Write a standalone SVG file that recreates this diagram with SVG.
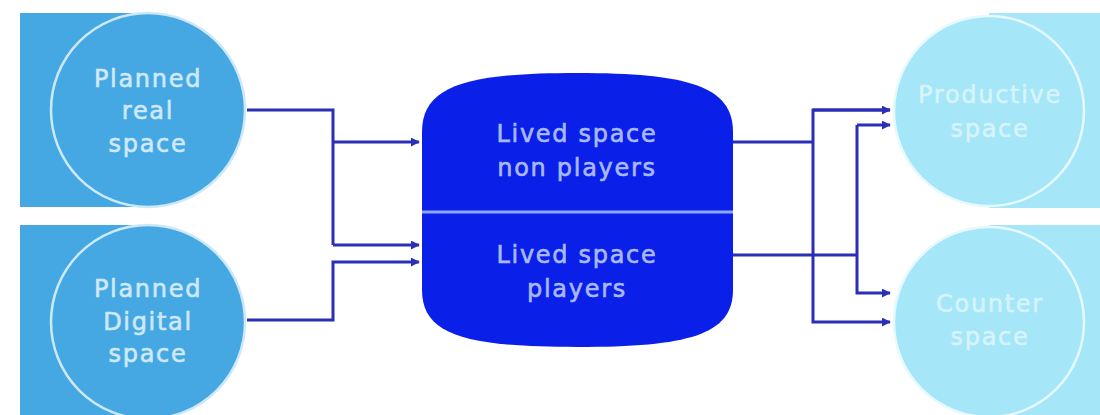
<svg xmlns="http://www.w3.org/2000/svg" width="1100" height="415" viewBox="0 0 1100 415">
<style>
.lbg{fill:#46a8e2}
.lc{fill:#46a8e2;stroke:#cde9f8;stroke-width:2.5}
.rbg{fill:#a5e6f8}
.rc{fill:#a5e6f8;stroke:#e6f9fe;stroke-width:2.5}
.t{font-family:"DejaVu Sans",sans-serif;font-size:24px;letter-spacing:1.7px;text-anchor:middle;stroke-width:0.6}
.tl{fill:#cfe9f9;stroke:#cfe9f9}
.tr{fill:#d6f4fc;stroke:#d6f4fc}
.tc{fill:#a9b9ff;stroke:#a9b9ff}
.cn{fill:none;stroke:#2b2fb5;stroke-width:3}
</style>
<defs>
<marker id="ah" viewBox="0 0 10 10" refX="9" refY="5" markerWidth="3" markerHeight="3" orient="auto" markerUnits="strokeWidth">
<path d="M0,0 L10,5 L0,10 z" fill="#2b2fb5"/>
</marker>
</defs>
<rect width="1100" height="415" fill="#ffffff"/>
<g id="planned-real">
<rect class="lbg" x="20" y="13" width="128" height="194"/>
<circle class="lc" cx="148" cy="110" r="97"/>
<text class="t tl" x="148" y="87">Planned</text>
<text class="t tl" x="148" y="119">real</text>
<text class="t tl" x="148" y="152">space</text>
</g>
<g id="planned-digital">
<rect class="lbg" x="20" y="225" width="128" height="190"/>
<circle class="lc" cx="148" cy="322" r="97"/>
<text class="t tl" x="148" y="297">Planned</text>
<text class="t tl" x="148" y="330">Digital</text>
<text class="t tl" x="148" y="362">space</text>
</g>
<g id="productive">
<rect class="rbg" x="989" y="13" width="111" height="195"/>
<circle class="rc" cx="989" cy="111" r="95"/>
<text class="t tr" x="990" y="103">Productive</text>
<text class="t tr" x="990" y="137">space</text>
</g>
<g id="counter">
<rect class="rbg" x="989" y="225" width="111" height="190"/>
<circle class="rc" cx="989" cy="322" r="95"/>
<text class="t tr" x="990" y="312">Counter</text>
<text class="t tr" x="990" y="345">space</text>
</g>
<g id="lived">
<path d="M422,132 C422,86 466,73 577,73 C688,73 733,86 733,132 L733,290 C733,335 688,347 577,347 C466,347 422,335 422,290 Z" fill="#0a20e8"/>
<line x1="422" y1="212" x2="733" y2="212" stroke="#8fa8ff" stroke-width="3"/>
<text class="t tc" x="577" y="142">Lived space</text>
<text class="t tc" x="577" y="176">non players</text>
<text class="t tc" x="577" y="263">Lived space</text>
<text class="t tc" x="577" y="297">players</text>
</g>
<g id="connectors">
<path class="cn" d="M247,110 H333 V245"/>
<path class="cn" d="M333,142 H419" marker-end="url(#ah)"/>
<path class="cn" d="M333,245 H419" marker-end="url(#ah)"/>
<path class="cn" d="M247,320 H333 V262 H419" marker-end="url(#ah)"/>
<path class="cn" d="M733,142 H813"/>
<path class="cn" d="M890,110 H813 V322 H890" marker-end="url(#ah)"/>
<path class="cn" d="M813,110 H890" marker-end="url(#ah)"/>
<path class="cn" d="M733,255 H857"/>
<path class="cn" d="M857,125 V293 H890" marker-end="url(#ah)"/>
<path class="cn" d="M857,125 H890" marker-end="url(#ah)"/>
</g>
</svg>
